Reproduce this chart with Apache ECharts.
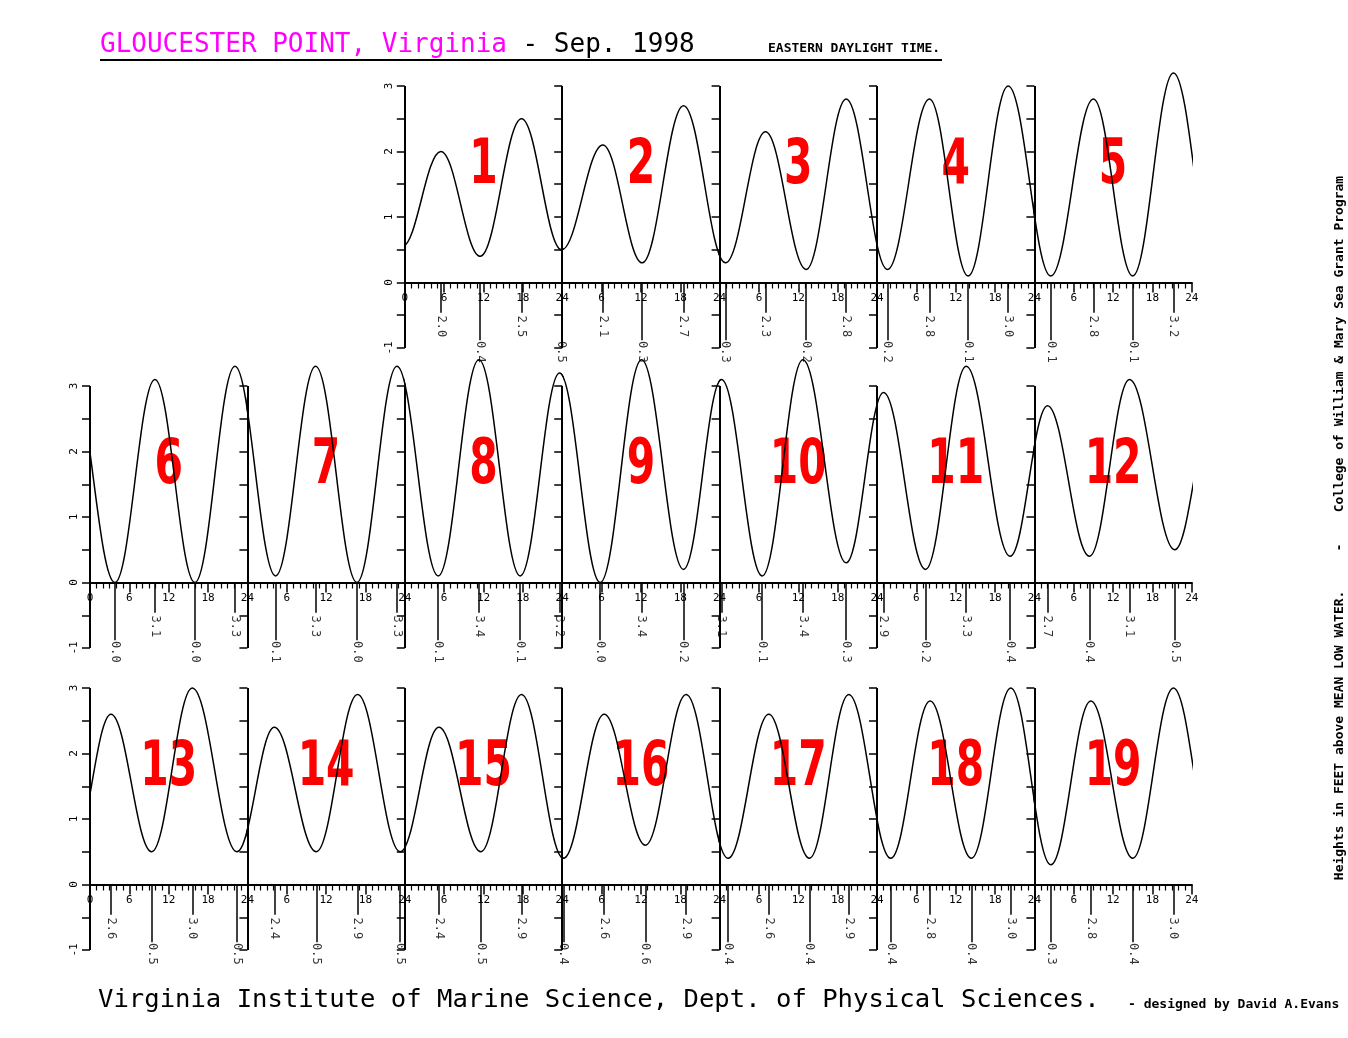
<!DOCTYPE html>
<html><head><meta charset="utf-8">
<script src="https://cdn.jsdelivr.net/npm/echarts@6/dist/echarts.min.js"></script>
<style>html,body{margin:0;padding:0;background:#fff}#c{width:1348px;height:1038px}</style>
</head><body><div id="c"></div>
<script>
// ---- data: tide extremes [hour, height in feet] per day (Sep. 1998) ----
const hourTicks = [0, 6, 12, 18, 24];
const yTickValues = [-1, -0.5, 0, 0.5, 1, 1.5, 2, 2.5, 3];
const yTickLabels = [-1, 0, 1, 2, 3];
const day0  = [[17.2, 2.4], [23.6, 0.55]];                      // Aug 31 (only for curve start)
const day1  = [[5.5, 2.0], [11.5, 0.4], [17.8, 2.5], [23.9, 0.5]];
const day2  = [[6.2, 2.1], [12.2, 0.3], [18.5, 2.7]];
const day3  = [[0.9, 0.3], [7.0, 2.3], [13.2, 0.2], [19.3, 2.8]];
const day4  = [[1.6, 0.2], [8.0, 2.8], [13.9, 0.1], [20.0, 3.0]];
const day5  = [[2.5, 0.1], [9.0, 2.8], [15.0, 0.1], [21.2, 3.2]];
const day6  = [[3.8, 0.0], [9.9, 3.1], [16.0, 0.0], [22.1, 3.3]];
const day7  = [[4.3, 0.1], [10.4, 3.3], [16.7, 0.0], [22.8, 3.3]];
const day8  = [[5.1, 0.1], [11.3, 3.4], [17.6, 0.1], [23.6, 3.2]];
const day9  = [[5.8, 0.0], [12.1, 3.4], [18.5, 0.2]];
const day10 = [[0.3, 3.1], [6.5, 0.1], [12.7, 3.4], [19.3, 0.3]];
const day11 = [[1.0, 2.9], [7.4, 0.2], [13.6, 3.3], [20.3, 0.4]];
const day12 = [[2.0, 2.7], [8.4, 0.4], [14.5, 3.1], [21.4, 0.5]];
const day13 = [[3.2, 2.6], [9.4, 0.5], [15.6, 3.0], [22.4, 0.5]];
const day14 = [[4.1, 2.4], [10.5, 0.5], [16.8, 2.9], [23.3, 0.5]];
const day15 = [[5.2, 2.4], [11.6, 0.5], [17.8, 2.9]];
const day16 = [[0.2, 0.4], [6.4, 2.6], [12.7, 0.6], [18.9, 2.9]];
const day17 = [[1.3, 0.4], [7.5, 2.6], [13.7, 0.4], [19.7, 2.9]];
const day18 = [[2.1, 0.4], [8.1, 2.8], [14.4, 0.4], [20.4, 3.0]];
const day19 = [[2.5, 0.3], [8.6, 2.8], [15.0, 0.4], [21.2, 3.0]];
const day20 = [[3.5, 0.4], [9.6, 2.8]];                         // Sep 20 (only for curve end)

const allDays = [day0, day1, day2, day3, day4, day5, day6, day7, day8, day9, day10,
                 day11, day12, day13, day14, day15, day16, day17, day18, day19, day20];

// ---- layout ----
const COL0 = 90, COLW = 157.4, UNIT = 65.5, YMAX = 3.6;
const ROWTOP = [86, 386, 688];   // pixel row of height 3 ft
function place(d) {
  if (d <= 5) return {row: 0, col: d + 1, first: d === 1};
  if (d <= 12) return {row: 1, col: d - 6, first: d === 6};
  return {row: 2, col: d - 13, first: d === 13};
}

const seq = [];
allDays.forEach((arr, d) => arr.forEach(([hr, ht]) => seq.push({t: (d - 1) * 24 + hr, h: ht, d: d, hr: hr})));
seq.forEach((p, i) => { const ref = seq[i - 1] || seq[i + 1]; p.high = p.h > ref.h; });

const MONO = '"DejaVu Sans Mono", monospace';
const grids = [], xAxes = [], yAxes = [], series = [];

for (let d = 1; d <= 19; d++) {
  const i = d - 1;
  const pl = place(d);
  grids.push({left: COL0 + pl.col * COLW, top: ROWTOP[pl.row] - (YMAX - 3) * UNIT,
              width: COLW, height: (YMAX + 1) * UNIT, containLabel: false});
  xAxes.push({
    gridIndex: i, type: 'value', min: hourTicks[0], max: hourTicks[hourTicks.length - 1], interval: 6,
    position: 'bottom', offset: -UNIT,
    axisLine: {show: true, onZero: false, lineStyle: {color: '#000', width: 2}},
    axisTick: {show: true, length: 10, lineStyle: {color: '#000', width: 1.5}},
    minorTick: {show: true, splitNumber: 6, length: 6, lineStyle: {color: '#000', width: 1.2}},
    splitLine: {show: false}, minorSplitLine: {show: false},
    axisLabel: {show: true, margin: 10, fontFamily: MONO, fontSize: 11, color: '#000',
      showMinLabel: true, showMaxLabel: true,
      formatter: v => (v === 0 && !pl.first) ? '' : String(v)}
  });
  yAxes.push({
    gridIndex: i, type: 'value', min: -1, max: YMAX, interval: 0.5,
    axisLine: {show: false},
    axisTick: {show: true, length: 8, customValues: yTickValues, lineStyle: {color: '#000', width: 1.5}},
    splitLine: {show: false},
    axisLabel: {show: pl.first, rotate: 90, margin: 10, fontFamily: MONO, fontSize: 11, color: '#000',
      customValues: yTickLabels, formatter: v => String(v)}
  });
  const base = (d - 1) * 24;
  const pts = seq.filter(p => p.t >= base - 14 && p.t <= base + 38).map(p => [p.t - base, p.h]);
  series.push({
    type: 'line', xAxisIndex: i, yAxisIndex: i, data: pts, smooth: 0.38, smoothMonotone: 'x',
    showSymbol: false, symbol: 'none', clip: true, silent: true, animation: false,
    lineStyle: {color: '#000', width: 1.5},
    markLine: {  // the panel's height axis, -1 .. 3 ft
      silent: true, animation: false, symbol: ['none', 'none'], label: {show: false},
      lineStyle: {color: '#000', type: 'solid', width: 2},
      data: [[{coord: [0, yTickLabels[0]]}, {coord: [0, yTickLabels[yTickLabels.length - 1]]}]]
    }
  });
  const ext = seq.filter(p => p.d === d);
  series.push({
    type: 'scatter', xAxisIndex: i, yAxisIndex: i, symbolSize: 1, clip: false, silent: true, animation: false,
    itemStyle: {color: 'rgba(0,0,0,0)'},
    data: ext.map(p => ({name: p.h.toFixed(1), value: [p.hr, p.high ? -0.67 : -1.06]})),
    label: {show: true, position: 'inside', rotate: -90, fontFamily: MONO, fontSize: 12, color: '#000', formatter: '{b}'},
    markLine: {
      silent: true, animation: false, symbol: ['none', 'none'], label: {show: false},
      lineStyle: {color: '#000', type: 'solid', width: 1.5},
      data: ext.map(p => [{coord: [p.hr, 0]}, {coord: [p.hr, p.high ? -0.46 : -0.88]}])
    }
  });
}

const chart = echarts.init(document.getElementById('c'), null, {renderer: 'canvas'});
chart.setOption({
  backgroundColor: '#ffffff',
  animation: false,
  grid: grids, xAxis: xAxes, yAxis: yAxes, series: series
});

const graphics = [
  {type: 'text', x: 100, y: 45, style: {text: 'GLOUCESTER POINT, Virginia', font: '26px ' + MONO, fill: '#ff00ff', textVerticalAlign: 'middle'}},
  {type: 'text', x: 100 + 27 * 15.65, y: 45, style: {text: '- Sep. 1998', font: '26px ' + MONO, fill: '#000', textVerticalAlign: 'middle'}},
  {type: 'line', shape: {x1: 100, y1: 60, x2: 942, y2: 60}, style: {stroke: '#000', lineWidth: 2}},
  {type: 'text', x: 768, y: 49, style: {text: 'EASTERN DAYLIGHT TIME.', font: 'bold 13px ' + MONO, fill: '#000', textVerticalAlign: 'middle'}},
  {type: 'text', x: 98, y: 1000, style: {text: 'Virginia Institute of Marine Science, Dept. of Physical Sciences.', font: '25.6px ' + MONO, fill: '#000', textVerticalAlign: 'middle'}},
  {type: 'text', x: 1128, y: 1005, style: {text: '- designed by David A.Evans', font: 'bold 13px ' + MONO, fill: '#000', textVerticalAlign: 'middle'}},
  {type: 'text', x: 1340, y: 528, rotation: Math.PI / 2,
    style: {text: 'Heights in FEET above MEAN LOW WATER.     -    College of William & Mary Sea Grant Program',
      font: 'bold 13px ' + MONO, fill: '#000', textAlign: 'center', textVerticalAlign: 'middle'}}
];
// big red day numbers, placed through each panel's own scales
for (let d = 1; d <= 19; d++) {
  const p = chart.convertToPixel({gridIndex: d - 1}, [12, 1.77]);
  graphics.push({type: 'text', x: p[0], y: p[1], scaleX: 0.66, scaleY: 1,
    style: {text: String(d), font: 'bold 62px "DejaVu Sans", sans-serif', fill: '#ff0000',
      textAlign: 'center', textVerticalAlign: 'middle'}});
}
chart.setOption({graphic: graphics});
</script>
</body></html>
